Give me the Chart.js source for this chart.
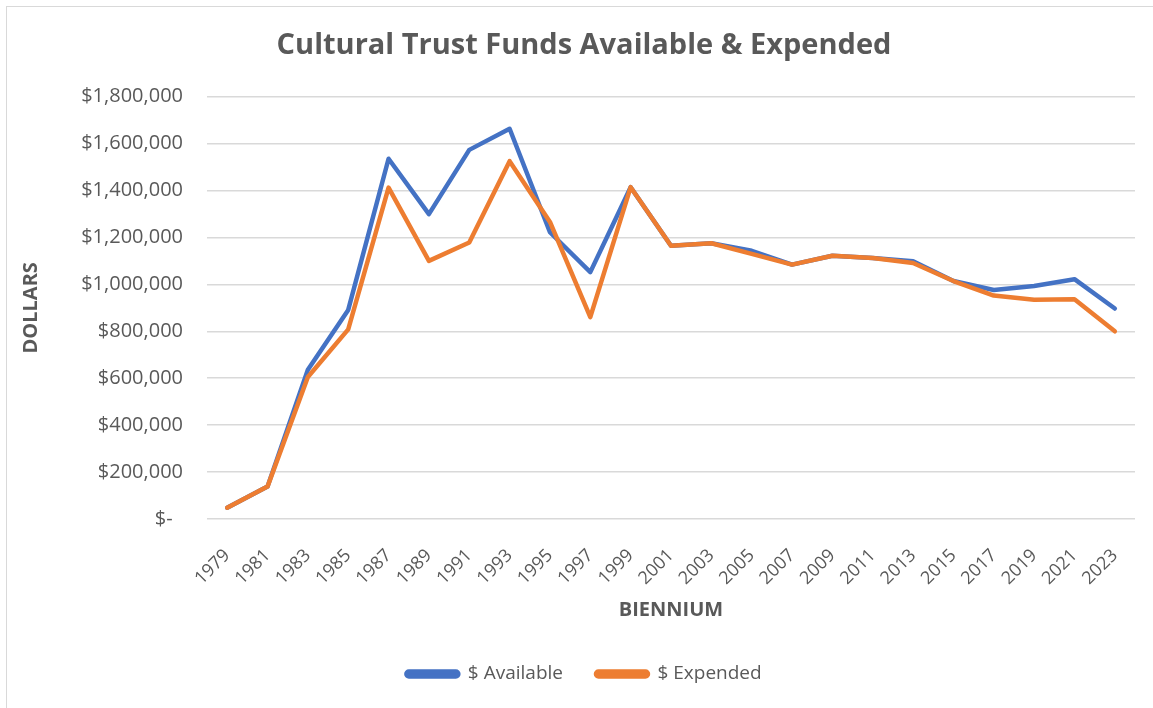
<!DOCTYPE html>
<html lang="en">
<head>
    <meta charset="UTF-8">
    <title>Cultural Trust Funds Available &amp; Expended</title>
    <script src="https://cdn.jsdelivr.net/npm/chart.js"></script>
    <style>
        html, body { margin: 0; padding: 0; background: #fff; overflow: hidden; }
        .frame { position: absolute; left: 6px; top: 6px; width: 1300px; height: 900px; border: 1.5px solid #d9d9d9; }
        .wrap { position: absolute; left: 0; top: 0; width: 1153px; height: 708px; }
    </style>
</head>
<body>
    <div class="frame"></div>
    <div class="wrap"><canvas id="chart" width="1153" height="708"></canvas></div>

    <script>
        // biennium labels
        const years = ['1979', '1981', '1983', '1985', '1987', '1989', '1991', '1993', '1995', '1997', '1999', '2001',
                       '2003', '2005', '2007', '2009', '2011', '2013', '2015', '2017', '2019', '2021', '2023'];

        // values
        const available = [48000, 138000, 636000, 891000, 1535000, 1299000, 1573000, 1663000, 1222000, 1052000, 1414000, 1164000,
                           1175000, 1143000, 1084000, 1122000, 1112000, 1098000, 1014000, 976000, 993000, 1022000, 897000];
        const expended = [48000, 138000, 605000, 808000, 1412000, 1100000, 1178000, 1525000, 1266000, 860000, 1414000, 1164000,
                          1175000, 1130000, 1084000, 1122000, 1112000, 1091000, 1014000, 952000, 934000, 936000, 800000];

        const yTicks = [0, 200000, 400000, 600000, 800000, 1000000, 1200000, 1400000, 1600000, 1800000];

        const gray = '#595959';
        const FONT = '"Open Sans", "DejaVu Sans", sans-serif';

        const fmt = v => v === 0 ? '$-  ' : '$' + v.toLocaleString('en-US');

        new Chart(document.getElementById('chart'), {
            type: 'line',
            data: {
                labels: years,
                datasets: [
                    {
                        label: '$ Available',
                        data: available,
                        borderColor: '#4472C4',
                        backgroundColor: '#4472C4',
                        borderWidth: 4.5,
                        order: 1
                    },
                    {
                        label: '$ Expended',
                        data: expended,
                        borderColor: '#ED7D31',
                        backgroundColor: '#ED7D31',
                        borderWidth: 4.5,
                        order: 0
                    }
                ]
            },
            options: {
                responsive: false,
                animation: false,
                devicePixelRatio: 1,
                // left/right padding keeps title + legend centred where the excel frame centre is
                layout: { padding: { top: 20, left: 33, right: 18, bottom: 14.5 } },
                elements: {
                    point: { radius: 0, hoverRadius: 0 },
                    line: { tension: 0, borderCapStyle: 'round', borderJoinStyle: 'round' }
                },
                plugins: {
                    title: {
                        display: true,
                        text: 'Cultural Trust Funds Available & Expended',
                        color: gray,
                        font: { family: FONT, size: 29, weight: 'bold' },
                        padding: { top: 8.6, bottom: 33.2 }
                    },
                    legend: {
                        position: 'bottom',
                        labels: {
                            color: gray,
                            font: { family: FONT, size: 19 },
                            boxWidth: 52,
                            boxHeight: 5,
                            useBorderRadius: true,
                            borderRadius: 2.5,
                            padding: 33,
                            sort: (a, b) => a.datasetIndex - b.datasetIndex
                        }
                    },
                    tooltip: { enabled: false }
                },
                scales: {
                    x: {
                        offset: true,
                        grid: { display: false, drawTicks: false },
                        border: { display: false },
                        ticks: {
                            color: gray,
                            font: { family: FONT, size: 18 },
                            minRotation: 45,
                            maxRotation: 45,
                            autoSkip: false,
                            padding: 26
                        },
                        title: {
                            display: true,
                            text: 'BIENNIUM',
                            color: gray,
                            font: { family: FONT, size: 20, weight: 'bold' },
                            padding: { top: 0, bottom: 9.7 }
                        },
                        afterFit: s => {
                            s.height = 112.5;
                            // rotated labels end at the tick, no side room needed
                            s.paddingLeft = 0;
                            s.paddingRight = 0;
                        }
                    },
                    y: {
                        min: 0,
                        max: 1800000,
                        afterBuildTicks: s => { s.ticks = yTicks.map(v => ({ value: v })); },
                        grid: { color: '#d9d9d9', lineWidth: 1.5, drawTicks: false },
                        border: { display: false },
                        ticks: {
                            color: gray,
                            font: { family: FONT, size: 20 },
                            padding: 24,
                            callback: v => fmt(v)
                        },
                        title: {
                            display: true,
                            text: 'DOLLARS',
                            color: gray,
                            font: { family: FONT, size: 20, weight: 'bold' },
                            padding: { top: -13.8, bottom: 0 }
                        },
                        afterFit: s => { s.width = 174; }
                    }
                }
            }
        });
    </script>
</body>
</html>
